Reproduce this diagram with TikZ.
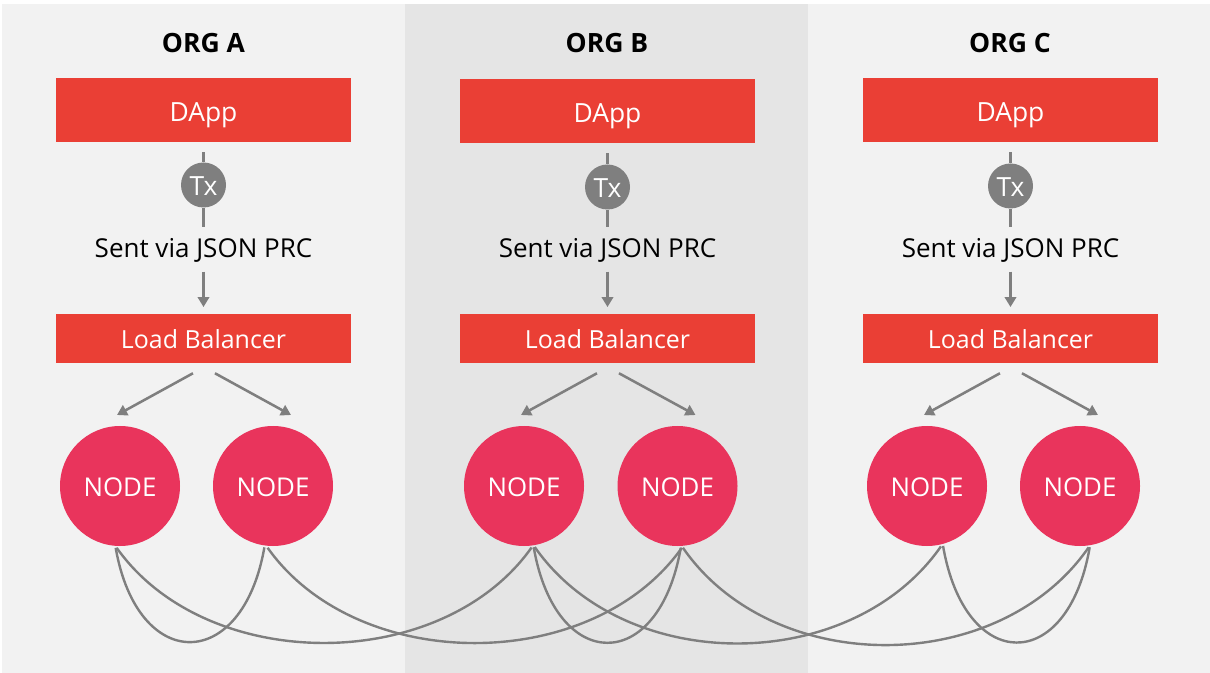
\documentclass[tikz,border=0pt]{standalone}
\usepackage{fontspec}
\setmainfont{Open Sans}
\usetikzlibrary{arrows.meta}
\definecolor{panellight}{HTML}{F2F2F2}
\definecolor{paneldark}{HTML}{E5E5E5}
\definecolor{boxred}{HTML}{EA3F35}
\definecolor{nodepink}{HTML}{E9345C}
\definecolor{wiregray}{HTML}{7F7F7F}
\tikzset{
    orgtitle/.style={font=\fontsize{19.9}{22}\selectfont\bfseries, text=black},
    dappbox/.style={fill=boxred, text=white, minimum width=221.25pt, minimum height=48pt, inner sep=0pt, text height=17.5pt, text depth=0pt, font=\fontsize{19.8}{22}\selectfont},
    lbbox/.style={fill=boxred, text=white, minimum width=221.25pt, minimum height=36.75pt, inner sep=0pt, text height=14.5pt, text depth=0pt, font=\fontsize{18.7}{22}\selectfont},
    txdot/.style={circle, fill=wiregray, text=white, minimum size=33.75pt, inner sep=0pt, text height=16.3pt, text depth=0pt, font=\fontsize{19.8}{22}\selectfont},
    sentlabel/.style={text=black, inner sep=0pt, font=\fontsize{19.5}{22}\selectfont},
    orgnode/.style={circle, fill=nodepink, text=white, minimum size=90pt, inner sep=0pt, outer sep=1.5pt, text height=15.3pt, text depth=0pt, font=\fontsize{19.4}{22}\selectfont},
    wire/.style={draw=wiregray, line width=1.9pt},
    wirearrow/.style={wire, -{Triangle[width=8.5pt,length=7.5pt]}},
    mesh/.style={draw=wiregray, line width=1.8pt}
}
\begin{document}
\begin{tikzpicture}[x=0.75pt,y=-0.75pt]
    \useasboundingbox (0,0) rectangle (1210,673);
    \fill[panellight] (2,4) rectangle (405,673);
    \fill[paneldark] (405,4) rectangle (808,673);
    \fill[panellight] (808,4) rectangle (1210,673);
    % org A
    \node[orgtitle] (titleA) at (203.5,43) {ORG A};
    \node[dappbox] (dappA) at (203.5,110) {DApp};
    \node[txdot] (txA) at (203.5,185) {Tx};
    \node[sentlabel] (sentA) at (203.5,250.7) {Sent via JSON PRC};
    \node[lbbox] (lbA) at (203.5,338.5) {Load Balancer};
    \node[orgnode] (nodeA1) at (120,486) {NODE};
    \node[orgnode] (nodeA2) at (273,486) {NODE};
    % org B
    \node[orgtitle] (titleB) at (607,43) {ORG B};
    \node[dappbox] (dappB) at (607.5,111) {DApp};
    \node[txdot] (txB) at (607.5,187) {Tx};
    \node[sentlabel] (sentB) at (607.5,250.7) {Sent via JSON PRC};
    \node[lbbox] (lbB) at (607.5,338.5) {Load Balancer};
    \node[orgnode] (nodeB1) at (524,486) {NODE};
    \node[orgnode] (nodeB2) at (677.5,486) {NODE};
    % org C
    \node[orgtitle] (titleC) at (1010,43) {ORG C};
    \node[dappbox] (dappC) at (1010.5,110) {DApp};
    \node[txdot] (txC) at (1010.5,186) {Tx};
    \node[sentlabel] (sentC) at (1010.5,250.7) {Sent via JSON PRC};
    \node[lbbox] (lbC) at (1010.5,338.5) {Load Balancer};
    \node[orgnode] (nodeC1) at (927,486) {NODE};
    \node[orgnode] (nodeC2) at (1080,486) {NODE};
    % dapp to load balancer
    \draw[wire, shorten <=7.5pt] (dappA.south) -- (txA.north);
    \draw[wire, shorten >=8.5pt] (txA.south) -- (sentA.north);
    \draw[wirearrow, shorten <=6.5pt, shorten >=5pt] (sentA.south) -- (lbA.north);
    \draw[wire, shorten <=7.5pt] (dappB.south) -- (txB.north);
    \draw[wire, shorten >=8.5pt] (txB.south) -- (sentB.north);
    \draw[wirearrow, shorten <=6.5pt, shorten >=5pt] (sentB.south) -- (lbB.north);
    \draw[wire, shorten <=7.5pt] (dappC.south) -- (txC.north);
    \draw[wire, shorten >=8.5pt] (txC.south) -- (sentC.north);
    \draw[wirearrow, shorten <=6.5pt, shorten >=5pt] (sentC.south) -- (lbC.north);
    % load balancer to nodes
    \draw[wirearrow] ([xshift=-7.9pt,yshift=-7.5pt]lbA.south) -- ([xshift=-2.25pt,yshift=6.75pt]nodeA1.north);
    \draw[wirearrow] ([xshift=8.6pt,yshift=-7.5pt]lbA.south) -- ([xshift=13.5pt,yshift=6.75pt]nodeA2.north);
    \draw[wirearrow] ([xshift=-7.9pt,yshift=-7.5pt]lbB.south) -- ([xshift=-2.25pt,yshift=6.75pt]nodeB1.north);
    \draw[wirearrow] ([xshift=8.6pt,yshift=-7.5pt]lbB.south) -- ([xshift=13.5pt,yshift=6.75pt]nodeB2.north);
    \draw[wirearrow] ([xshift=-7.9pt,yshift=-7.5pt]lbC.south) -- ([xshift=-2.25pt,yshift=6.75pt]nodeC1.north);
    \draw[wirearrow] ([xshift=8.6pt,yshift=-7.5pt]lbC.south) -- ([xshift=13.5pt,yshift=6.75pt]nodeC2.north);
    % mesh between nodes
    \draw[mesh] (nodeA1.-94.6) .. controls +(22,126) and +(-22,126) .. (nodeA2.-98.8);
    \draw[mesh] (nodeA1.-93.7) .. controls +(90,127) and +(-90,127) .. (nodeB1.-83);
    \draw[mesh] (nodeA2.-95.6) .. controls +(90,127) and +(-90,127) .. (nodeB2.-86.8);
    \draw[mesh] (nodeB1.-81.7) .. controls +(22,127) and +(-22,127) .. (nodeB2.-87.7);
    \draw[mesh] (nodeB1.-80.2) .. controls +(90,129) and +(-90,129) .. (nodeC1.-77);
    \draw[mesh] (nodeB2.-85) .. controls +(90,130) and +(-90,130) .. (nodeC2.-82.6);
    \draw[mesh] (nodeC1.-75) .. controls +(22,128) and +(-22,128) .. (nodeC2.-81.7);
\end{tikzpicture}
\end{document}
